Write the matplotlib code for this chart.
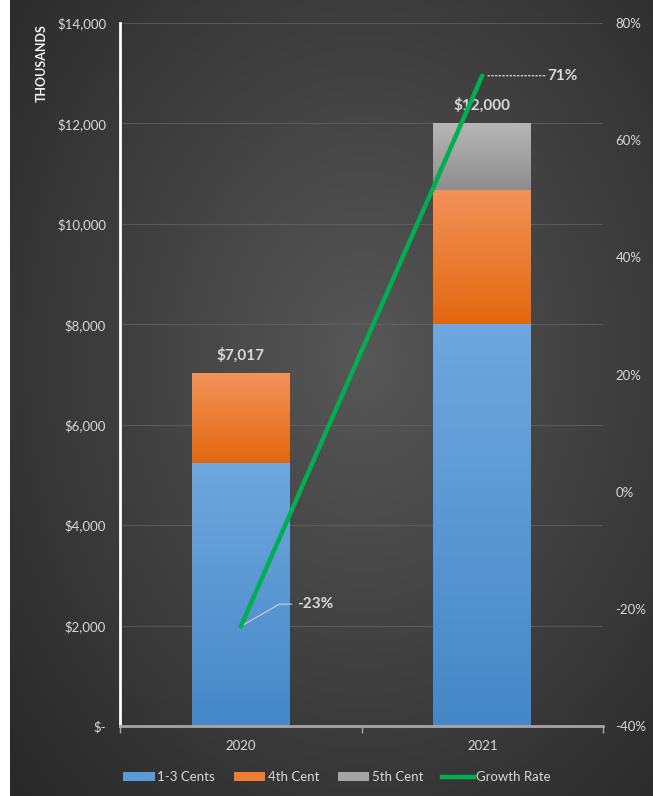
import numpy as np
import matplotlib
matplotlib.use("Agg")
import matplotlib.pyplot as plt
from matplotlib.patches import Patch
from matplotlib.lines import Line2D
from matplotlib.ticker import FuncFormatter, FixedLocator

plt.rcParams["font.family"] = ["Lato", "DejaVu Sans"]

# data (thousands of $)
years = ["2020", "2021"]
cents_1_3 = [5240, 8000]
cent_4 = [1777, 2680]
cent_5 = [0, 1320]
totals = [7017, 12000]
growth = [-0.23, 0.71]

series_names = ["1-3 Cents", "4th Cent", "5th Cent"]
# (top colour, bottom colour) for the bar gradients
grad_colors = [("#6fa7de", "#4588c8"), ("#f39259", "#e2680f"), ("#b6b6b6", "#8e8e8e")]
legend_colors = ["#5b9bd5", "#ed7d31", "#a5a5a5"]
txt = "#d9d9d9"


def hex2rgb(h):
    return np.array([int(h[i:i + 2], 16) / 255 for i in (1, 3, 5)])


def gradient_bar(ax, x, bottom, height, width, top_col, bot_col):
    if height <= 0:
        return
    t = np.linspace(0, 1, 64)[:, None]
    c = hex2rgb(top_col) * (1 - t) + hex2rgb(bot_col) * t
    img = np.repeat(c[:, None, :], 2, axis=1)
    ax.imshow(img, extent=(x - width / 2, x + width / 2, bottom, bottom + height),
              aspect="auto", origin="upper", zorder=2, interpolation="bilinear")


fig = plt.figure(figsize=(6.53, 7.96), dpi=100)
fig.patch.set_facecolor("white")

# dark radial background
bg = fig.add_axes([10 / 653, 0, 643 / 653, 1])
bg.axis("off")
yy, xx = np.mgrid[0:1:200j, 0:1:200j]
r = np.sqrt(((xx - 0.55) / 0.75) ** 2 + ((yy - 0.45) / 0.8) ** 2)
r = np.clip(r, 0, 1)
inner = hex2rgb("#575757")
outer = hex2rgb("#282828")
bg_img = inner * (1 - r[..., None]) + outer * r[..., None]
bg.imshow(bg_img, extent=(0, 1, 0, 1), aspect="auto", origin="upper")

ax = fig.add_axes([120 / 653, 70 / 796, 483 / 653, 703 / 796])
ax.set_facecolor("none")
x = np.arange(len(years))
w = 0.405

bottoms = np.zeros(len(years))
for vals, (c_top, c_bot) in zip([cents_1_3, cent_4, cent_5], grad_colors):
    for i in range(len(years)):
        gradient_bar(ax, x[i], bottoms[i], vals[i], w, c_top, c_bot)
    bottoms += np.array(vals)

for i, t in enumerate(totals):
    ax.annotate(f"${t:,.0f}", (x[i], t), xytext=(0, 8), textcoords="offset points",
                ha="center", va="bottom", color=txt, fontsize=11, fontweight="bold")

ax.set_xlim(-0.5, 1.5)
ax.set_ylim(0, 14000)
ax.set_yticks(np.arange(0, 14001, 2000))
ax.yaxis.set_major_formatter(FuncFormatter(lambda v, p: "$-" if v == 0 else f"${v:,.0f}"))
ax.set_xticks(x)
ax.set_xticklabels(years)
ax.xaxis.set_minor_locator(FixedLocator([-0.5, 0.5, 1.5]))
ax.tick_params(axis="x", which="major", length=0, colors=txt, labelsize=9.5, pad=10)
ax.tick_params(axis="x", which="minor", length=5, width=1, color="#a6a6a6")
ax.tick_params(axis="y", length=0, colors=txt, labelsize=9.5, pad=10)
ax.grid(axis="y", color="#6a6a6a", lw=0.8, alpha=0.6, zorder=0)
ax.set_axisbelow(True)
for s in ["top", "right"]:
    ax.spines[s].set_visible(False)
ax.spines["left"].set_color("white")
ax.spines["left"].set_linewidth(2)
ax.spines["bottom"].set_color("#a6a6a6")
ax.spines["bottom"].set_linewidth(2)

ax2 = ax.twinx()
ax2.plot(x, growth, color="#00b050", lw=3.2, solid_capstyle="round", zorder=5)
ax2.set_ylim(-0.4, 0.8)
ax2.set_yticks(np.arange(-0.4, 0.81, 0.2))
ax2.yaxis.set_major_formatter(FuncFormatter(lambda v, p: f"{v * 100:.0f}%"))
ax2.tick_params(axis="y", length=0, colors=txt, labelsize=9.5, pad=9)
for s in ax2.spines.values():
    s.set_visible(False)

ax2.annotate("71%", (x[1], growth[1]), xytext=(1.27, growth[1]), textcoords="data",
             ha="left", va="center", color=txt, fontsize=11, fontweight="bold",
             arrowprops=dict(arrowstyle="-", color="#d0d0d0", lw=1, linestyle=":",
                             shrinkA=0, shrinkB=3))
ax2.annotate("-23%", (x[0], growth[0]), xytext=(0.235, -0.192), textcoords="data",
             ha="left", va="center", color=txt, fontsize=11, fontweight="bold",
             arrowprops=dict(arrowstyle="-", color="#d0d0d0", lw=0.8,
                             connectionstyle="angle,angleA=0,angleB=30,rad=0",
                             shrinkA=2, shrinkB=0))

fig.text(42 / 653, 1 - 63 / 796, "THOUSANDS", rotation=90, ha="center", va="center",
         color="#f2f2f2", fontsize=9, fontweight="bold")

handles = [Patch(facecolor=c, edgecolor="none") for c in legend_colors]
handles.append(Line2D([0], [0], color="#00b050", lw=3.2))
fig.legend(handles, series_names + ["Growth Rate"], loc="center",
           bbox_to_anchor=(337 / 653, 1 - 777 / 796), ncol=4, frameon=False,
           fontsize=9.5, labelcolor=txt, handlelength=2.4, handleheight=0.6,
           handletextpad=0.2, columnspacing=1.4)

fig.savefig("out.png", dpi=100, facecolor=fig.get_facecolor())
